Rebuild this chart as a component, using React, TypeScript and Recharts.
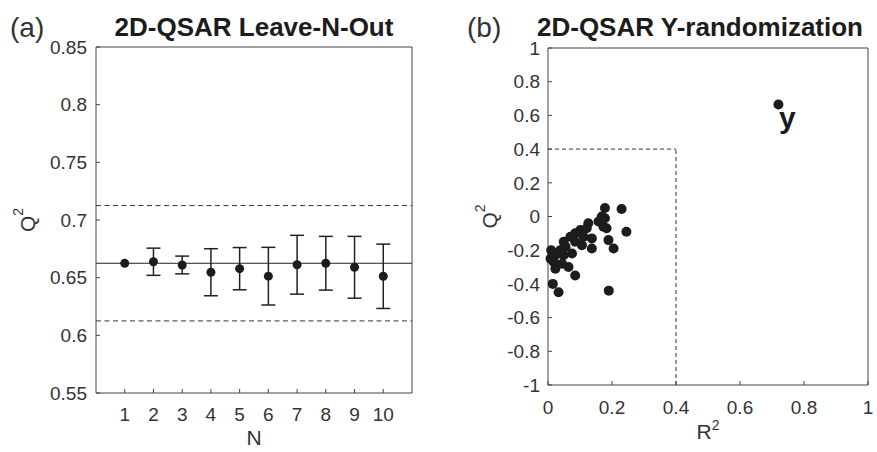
import { ScatterChart, Scatter, XAxis, YAxis, ErrorBar, ReferenceLine } from 'recharts'

// (a) leave-N-out
const nValues = [1, 2, 3, 4, 5, 6, 7, 8, 9, 10]
const q2Mean = [0.6624, 0.6638, 0.661, 0.6547, 0.6578, 0.6513, 0.6612, 0.6625, 0.659, 0.6512]
const q2Err = [0, 0.0118, 0.0077, 0.0204, 0.0183, 0.025, 0.0255, 0.0233, 0.0268, 0.0279]
const q2Ref = 0.6625
const q2Upper = 0.7125
const q2Lower = 0.6125
const lnoTicksY = [0.55, 0.6, 0.65, 0.7, 0.75, 0.8, 0.85]

// (b) y-randomization
const randR2 = [
	0.178, 0.23, 0.168, 0.158, 0.173, 0.126, 0.121, 0.101, 0.085, 0.111, 0.137, 0.07, 0.049, 0.085, 0.106, 0.137, 0.189,
	0.205, 0.038, 0.023, 0.049, 0.075, 0.018, 0.044, 0.064, 0.023, 0.008, 0.085, 0.015, 0.033, 0.19, 0.245, 0.183, 0.178,
	0.01, 0.055,
]
const randQ2 = [
	0.05, 0.045, 0.0, -0.03, -0.06, -0.04, -0.07, -0.08, -0.1, -0.12, -0.13, -0.12, -0.15, -0.15, -0.17, -0.19, -0.14,
	-0.19, -0.2, -0.23, -0.23, -0.22, -0.27, -0.28, -0.3, -0.31, -0.25, -0.35, -0.4, -0.45, -0.44, -0.09, -0.07, -0.01,
	-0.2, -0.18,
]
const modelR2 = 0.72
const modelQ2 = 0.665
const cutoff = 0.4
const randTicksX = [0, 0.2, 0.4, 0.6, 0.8, 1]
const randTicksY = [-1, -0.8, -0.6, -0.4, -0.2, 0, 0.2, 0.4, 0.6, 0.8, 1]

const lnoData = nValues.map((n, i) => ({ n, q2: q2Mean[i], err: q2Err[i] }))
const randData = randR2.map((r2, i) => ({ r2, q2: randQ2[i] }))
const modelData = [{ r2: modelR2, q2: modelQ2 }]

const FONT = '"Liberation Sans", Arial, Helvetica, sans-serif'
const AXIS = '#444'
const INK = '#1c1c1c'
const tickStyle = { fill: '#333', fontSize: 19, fontFamily: FONT }

const xTitle = (main: string, sup: string, dy: number) => (props: any) => {
	const vb = props.viewBox || { x: 0, y: 0, width: 0, height: 0 }
	return (
		<text x={vb.x + vb.width / 2} y={vb.y + dy} textAnchor='middle' fill='#333' fontSize={21} fontFamily={FONT}>
			{main}
			{sup && (
				<tspan fontSize={14} dy={-9}>
					{sup}
				</tspan>
			)}
		</text>
	)
}

const yTitle = (cx: number) => (props: any) => {
	const vb = props.viewBox || { x: 0, y: 0, width: 0, height: 0 }
	const cy = vb.y + vb.height / 2
	return (
		<text
			x={vb.x + cx}
			y={cy}
			transform={`rotate(-90, ${vb.x + cx}, ${cy})`}
			textAnchor='middle'
			dominantBaseline='central'
			fill='#333'
			fontSize={21}
			fontFamily={FONT}
		>
			Q
			<tspan fontSize={14} dy={-9}>
				2
			</tspan>
		</text>
	)
}

const Dot = (r: number) => (p: any) => <circle cx={p.cx} cy={p.cy} r={r} fill={INK} />

const ModelDot = (p: any) => (
	<g>
		<circle cx={p.cx} cy={p.cy} r={5} fill={INK} />
		<text x={p.cx + 9} y={p.cy + 24} textAnchor='middle' fontSize={30} fontWeight='bold' fill={INK} fontFamily={FONT}>
			y
		</text>
	</g>
)

const LeaveNOut = () => (
	<ScatterChart width={440} height={452} margin={{ top: 46, right: 27, bottom: 0, left: 0 }}>
		<XAxis
			dataKey='n'
			type='number'
			domain={[0, 11]}
			ticks={nValues}
			height={59}
			stroke={AXIS}
			tickSize={-4}
			tickMargin={19}
			tick={tickStyle}
			label={{ content: xTitle('N', '', 52) }}
		/>
		<XAxis xAxisId='top' orientation='top' type='number' domain={[0, 11]} ticks={nValues} height={1} stroke={AXIS} tickSize={-4} tick={false} />
		<YAxis
			dataKey='q2'
			type='number'
			domain={[0.55, 0.85]}
			ticks={lnoTicksY}
			width={96}
			stroke={AXIS}
			tickSize={-4}
			tickMargin={13}
			tick={tickStyle}
			allowDataOverflow
			label={{ content: yTitle(27) }}
		/>
		<YAxis yAxisId='right' orientation='right' type='number' domain={[0.55, 0.85]} ticks={lnoTicksY} width={1} stroke={AXIS} tickSize={-4} tick={false} />
		<ReferenceLine y={q2Upper} stroke='#333' strokeDasharray='5 3.5' />
		<ReferenceLine y={q2Lower} stroke='#333' strokeDasharray='5 3.5' />
		<ReferenceLine y={q2Ref} stroke='#222' />
		<Scatter data={lnoData} shape={Dot(4.5)} isAnimationActive={false}>
			<ErrorBar dataKey='err' direction='y' width={7} stroke='#222' strokeWidth={1.5} />
		</Scatter>
	</ScatterChart>
)

const YRandomization = () => (
	<ScatterChart width={437} height={452} margin={{ top: 47, right: 8, bottom: 0, left: 0 }}>
		<XAxis
			dataKey='r2'
			type='number'
			domain={[0, 1]}
			ticks={randTicksX}
			height={67}
			stroke={AXIS}
			tickSize={-4}
			tickMargin={20}
			tick={tickStyle}
			label={{ content: xTitle('R', '2', 54) }}
		/>
		<XAxis xAxisId='top' orientation='top' type='number' domain={[0, 1]} ticks={randTicksX} height={1} stroke={AXIS} tickSize={-4} tick={false} />
		<YAxis
			dataKey='q2'
			type='number'
			domain={[-1, 1]}
			ticks={randTicksY}
			width={108}
			stroke={AXIS}
			tickSize={-4}
			tickMargin={12}
			tick={tickStyle}
			label={{ content: yTitle(49) }}
		/>
		<YAxis yAxisId='right' orientation='right' type='number' domain={[-1, 1]} ticks={randTicksY} width={1} stroke={AXIS} tickSize={-4} tick={false} />
		<ReferenceLine
			segment={[
				{ x: cutoff, y: -1 },
				{ x: cutoff, y: cutoff },
			]}
			stroke='#333'
			strokeDasharray='4 3'
		/>
		<ReferenceLine
			segment={[
				{ x: 0, y: cutoff },
				{ x: cutoff, y: cutoff },
			]}
			stroke='#333'
			strokeDasharray='4 3'
		/>
		<Scatter data={randData} shape={Dot(5)} isAnimationActive={false} />
		<Scatter data={modelData} shape={ModelDot} isAnimationActive={false} />
	</ScatterChart>
)

export default function App() {
	return (
		<div style={{ position: 'absolute', left: 0, top: 0, width: 877, height: 452, background: '#fff', fontFamily: FONT }}>
			<div style={{ position: 'absolute', left: 0, top: 0 }}>
				<LeaveNOut />
			</div>
			<div style={{ position: 'absolute', left: 440, top: 0 }}>
				<YRandomization />
			</div>
			<svg width={877} height={452} style={{ position: 'absolute', left: 0, top: 0, pointerEvents: 'none' }}>
				<text x={10} y={37} fontSize={28} fill='#333' fontFamily={FONT}>
					(a)
				</text>
				<text x={254} y={36} fontSize={26} fontWeight='bold' textAnchor='middle' fill={INK} fontFamily={FONT}>
					2D-QSAR Leave-N-Out
				</text>
				<text x={467} y={37} fontSize={28} fill='#333' fontFamily={FONT}>
					(b)
				</text>
				<text x={700} y={36} fontSize={26} fontWeight='bold' textAnchor='middle' fill={INK} fontFamily={FONT}>
					2D-QSAR Y-randomization
				</text>
			</svg>
		</div>
	)
}
